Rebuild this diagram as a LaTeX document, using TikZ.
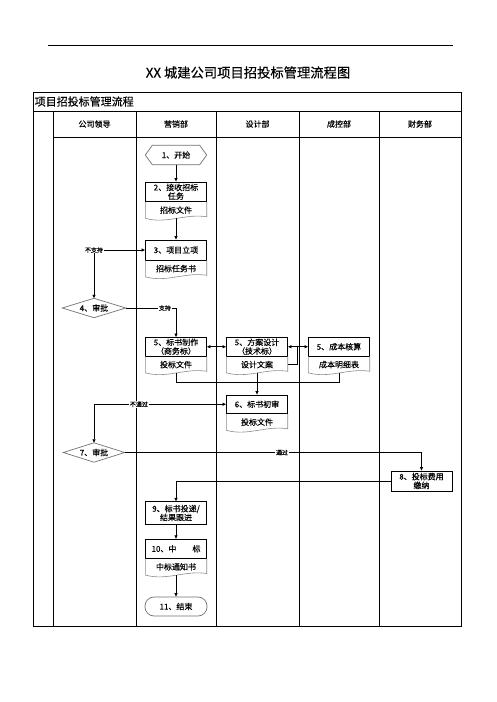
\documentclass[tikz,border=0pt]{standalone}
\usepackage{fontspec}
\setmainfont{Noto Sans CJK SC}[FakeBold=0.35]
\usetikzlibrary{arrows.meta,calc}
\tikzset{
  box/.style={draw=black,line width=0.8pt,minimum width=61pt,minimum height=19.5pt,inner sep=0pt,align=center,font=\fontsize{8}{8.8}\selectfont},
  docpart/.style={minimum width=61pt,minimum height=16pt,inner sep=0pt,font=\fontsize{8}{9}\selectfont},
  docline/.style={draw=black!45,line width=0.6pt},
  shapeline/.style={draw=black!55,line width=0.7pt},
  conn/.style={line width=0.75pt,-{Triangle[length=3.5pt,width=3pt]}},
  biconn/.style={line width=0.75pt,{Triangle[length=3.5pt,width=3pt]}-{Triangle[length=3.5pt,width=3pt]}},
  plainconn/.style={line width=0.75pt},
  lbl/.style={fill=white,inner sep=0.6pt,font=\fontsize{6}{7}\selectfont},
  hdr/.style={font=\fontsize{8}{9}\selectfont},
  grid/.style={line width=0.8pt},
  flat/.style={minimum width=#1,minimum height=19pt,inner sep=0pt,font=\fontsize{8}{9}\selectfont},
}
\newcommand\docwave[1]{\draw[docline] (#1.north west) -- (#1.south west) .. controls ($(#1.south west)!0.35!(#1.south east)+(0,6)$) and ($(#1.south west)!0.65!(#1.south east)+(0,-5)$) .. ($(#1.south east)+(0,-1.5)$) -- (#1.north east);}
\begin{document}
\begin{tikzpicture}[x=1pt,y=-1pt]
\fill[white] (0,0) rectangle (496,702);
\useasboundingbox (0,0) rectangle (496,702);
% top rule and title
\draw[line width=0.8pt] (48,45) -- (453,45);
\node[font=\fontsize{13.3}{15}\selectfont] (title) at (248,72.5) {XX 城建公司项目招投标管理流程图};
% table
\draw[grid] (33,92) rectangle (461.5,626);
\draw[grid] (33,111) -- (461.5,111);
\draw[grid] (53,137) -- (461.5,137);
\foreach \x in {53,136,216,299,379} \draw[grid] (\x,111) -- (\x,626);
\node[anchor=west,font=\fontsize{11}{12}\selectfont,inner sep=0pt] (tabtitle) at (34.5,101.5) {项目招投标管理流程};
\node[hdr] (h1) at (94.5,124) {公司领导};
\node[hdr] (h2) at (176,124) {营销部};
\node[hdr] (h3) at (257.5,124) {设计部};
\node[hdr] (h4) at (339,124) {成控部};
\node[hdr] (h5) at (420,124) {财务部};
% 1 start
\node[flat=61pt] (n1) at (176,155) {1、开始};
\draw[shapeline] (n1.west) -- ($(n1.north west)+(7,0)$) -- ($(n1.north east)+(-7,0)$) -- (n1.east) -- ($(n1.south east)+(-7,0)$) -- ($(n1.south west)+(7,0)$) -- cycle;
% 2
\node[box] (n2) at (176,191.75) {2、接收招标\\任务};
\node[docpart,anchor=north] (n2d) at (n2.south) {招标文件};
\docwave{n2d}
% 3
\node[box,minimum height=20pt] (n3) at (176,250) {3、项目立项};
\node[docpart,anchor=north] (n3d) at (n3.south) {招标任务书};
\docwave{n3d}
% 4 diamond
\node[flat=63pt] (d4) at (94,308) {4、审批};
\draw[shapeline] (d4.west) -- (d4.north) -- (d4.east) -- (d4.south) -- cycle;
% 5
\node[box,minimum height=18.5pt] (n5a) at (176,346.75) {5、标书制作\\（商务标）};
\node[docpart,anchor=north] (n5ad) at (n5a.south) {投标文件};
\docwave{n5ad}
\node[box,minimum height=18.5pt] (n5b) at (257,346.75) {5、方案设计\\（技术标）};
\node[docpart,anchor=north] (n5bd) at (n5b.south) {设计文案};
\docwave{n5bd}
\node[box,minimum height=18.5pt] (n5c) at (339,346.75) {5、成本核算};
\node[docpart,anchor=north] (n5cd) at (n5c.south) {成本明细表};
\docwave{n5cd}
% 6
\node[box,minimum height=18.5pt] (n6) at (257,404.25) {6、标书初审};
\node[docpart,anchor=north] (n6d) at (n6.south) {投标文件};
\docwave{n6d}
% 7 diamond
\node[flat=61pt] (d7) at (94,452.5) {7、审批};
\draw[shapeline] (d7.west) -- (d7.north) -- (d7.east) -- (d7.south) -- cycle;
% 8
\node[box,minimum height=20pt] (n8) at (421.5,481) {8、投标费用\\缴纳};
% 9
\node[box,minimum height=22.5pt] (n9) at (176,513) {9、标书投递/\\结果跟进};
% 10
\node[box,minimum height=19pt] (n10) at (176,548.75) {10、中　　标};
\node[docpart,anchor=north] (n10d) at (n10.south) {中标通知书};
\docwave{n10d}
% 11 end
\node[flat=62pt,shapeline,draw,rounded corners=9pt] (n11) at (176,606.5) {11、结束};
% helper coordinates
\coordinate (c1) at (297,346.75);
\coordinate (c2) at (257,382.5);
% connectors
\draw[conn] (n1.south) -- (n2.north);
\draw[conn] (n2d.south) -- (n3.north);
\draw[biconn] (d4.north) |- node[lbl,pos=0.5] (l1) {不支持} (n3.west);
\draw[conn] (d4.east) -| node[lbl,pos=0.39] (l2) {支持} (n5a.north);
\draw[biconn] (n5a.east) -- (n5b.west);
\draw[biconn] (n5b.east) -- (n5c.west);
\draw[plainconn] (n5bd.east) -| (c1);
\draw[plainconn] (n5ad.south) |- (c2);
\draw[plainconn] (n5cd.south) |- (c2);
\draw[conn] (n5bd.south) -- (n6.north);
\draw[biconn] (n6.west) -| node[lbl,pos=0.33] (l3) {不通过} (d7.north);
\draw[conn] (d7.east) -| node[lbl,pos=0.265] (l4) {通过} (n8.north);
\draw[conn] (n8.west) -| (n9.north);
\draw[conn] (n9.south) -- (n10.north);
\draw[conn] (n10d.south) -- (n11.north);
\end{tikzpicture}
\end{document}
